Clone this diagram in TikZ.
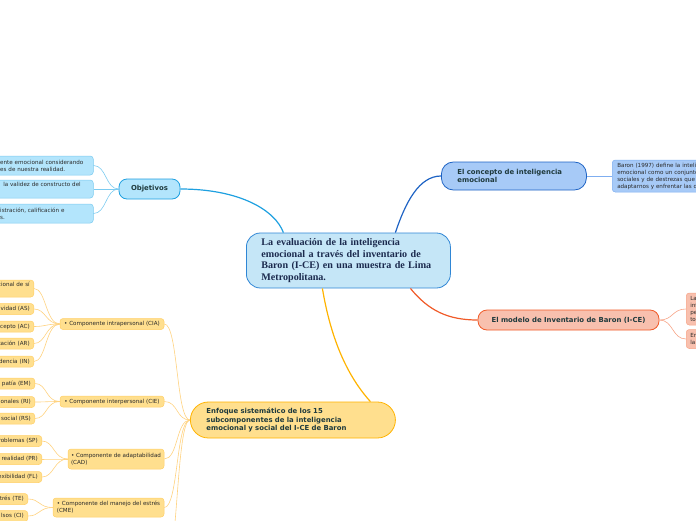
\documentclass[tikz,border=0pt]{standalone}
\usepackage{fontspec}
\setmainfont{DejaVu Sans}
\newfontfamily\serifb{Liberation Serif}
\definecolor{txt}{HTML}{2A2A2A}
\definecolor{ttl}{HTML}{1F3A3D}
\definecolor{navy}{HTML}{1B2A4E}
\definecolor{cfill}{HTML}{C5E6F7}
\definecolor{cline}{HTML}{2F86D5}
\definecolor{ofill}{HTML}{B3E5FC}
\definecolor{oline}{HTML}{1EA0E0}
\definecolor{olight}{HTML}{7CCBF0}
\definecolor{kfill}{HTML}{A7CAF7}
\definecolor{kline}{HTML}{1E63C4}
\definecolor{klight}{HTML}{7FAEF0}
\definecolor{mfill}{HTML}{F8C0AE}
\definecolor{mline}{HTML}{F05A28}
\definecolor{mlight}{HTML}{F7A487}
\definecolor{yfill}{HTML}{FFDF8E}
\definecolor{yline}{HTML}{FFCF66}
\definecolor{ydark}{HTML}{FFB300}
\definecolor{ylight}{HTML}{FFD27F}
\begin{document}
\begin{tikzpicture}[x=1pt,y=-1pt,
  small/.style={font=\fontsize{5.6}{7}\selectfont, text=txt},
  title/.style={font=\bfseries\fontsize{6.9}{8.6}\selectfont, text=ttl},
  bx/.style={draw, rounded corners=3pt, line width=0.5pt, inner ysep=0pt},
  leafr/.style={bx, small, fill=yfill, draw=yline, anchor=east, text width=56pt, align=right, inner xsep=4pt, minimum height=11pt},
  comp/.style={bx, small, fill=yfill, draw=yline, align=left, inner xsep=0pt},
  thin/.style={line width=0.6pt}
]
\useasboundingbox (0,0) rectangle (696,520);
\clip (0,0) rectangle (696,520);

% central
\node[draw=cline, fill=cfill, line width=0.8pt, rounded corners=14pt, anchor=west,
  inner xsep=15pt, inner ysep=0pt, text width=174pt, align=left, minimum height=55pt,
  font=\serifb\bfseries\fontsize{10.1}{11.4}\selectfont, text=navy] (c) at (246,260.5)
  {\mbox{La evaluación de la inteligencia}\\\mbox{emocional a través del inventario de}\\\mbox{Baron (I-CE) en una muestra de Lima}\\\mbox{Metropolitana.}};

% Objetivos
\node[bx, title, draw=oline, fill=ofill, line width=0.8pt, rounded corners=8pt, minimum width=61pt, minimum height=20pt] (obj) at (149.5,189) {Objetivos};
\node[bx, small, draw=olight, fill=ofill, anchor=west, inner xsep=10pt, text width=83pt, align=left, minimum height=19pt] (o1) at (-10,165.5) {\mbox{ente emocional considerando}\\\mbox{es de nuestra realidad.}};
\node[bx, small, draw=olight, fill=ofill, anchor=west, inner xsep=10pt, text width=83pt, align=left, minimum height=18pt] (o2) at (-10,189) {\mbox{\hspace{3pt}la validez de constructo del}\\\strut};
\node[bx, small, draw=olight, fill=ofill, anchor=west, inner xsep=10pt, text width=83pt, align=left, minimum height=19pt] (o3) at (-10,213.5) {\mbox{istración, calificación e}\\\mbox{s.}};

% concept
\node[bx, title, draw=kline, fill=kfill, line width=0.8pt, rounded corners=12pt, anchor=west, inner xsep=16pt, text width=113pt, align=left, minimum height=28pt] (k) at (441,176) {\mbox{El concepto de inteligencia}\\\mbox{emocional}};
\node[bx, small, draw=klight, fill=kfill, anchor=west, inner xsep=5pt, text width=100pt, align=left, minimum height=32pt] (k1) at (612,176) {\mbox{Baron (1997) define la inteli}\\\mbox{emocional como un conjunto}\\\mbox{sociales y de destrezas que i}\\\mbox{adaptarnos y enfrentar las d}};

% model
\node[bx, title, draw=mline, fill=mfill, line width=0.8pt, rounded corners=9pt, minimum width=181pt, minimum height=20pt] (m) at (568.5,320) {El modelo de Inventario de Baron (I-CE)};
\node[bx, small, draw=mlight, fill=mfill, anchor=west, inner xsep=4pt, text width=40pt, align=left, minimum height=32pt] (m1) at (686,309) {La\\inf\\pe\\to};
\node[bx, small, draw=mlight, fill=mfill, anchor=west, inner xsep=4pt, text width=40pt, align=left, minimum height=19pt] (m2) at (686,339) {En\\la};

% Enfoque
\node[bx, title, draw=ydark, fill=yfill, line width=0.8pt, rounded corners=18pt, anchor=west, inner xsep=16pt, text width=173pt, align=left, minimum height=36pt] (e) at (190,420) {\mbox{Enfoque sistemático de los 15}\\\mbox{subcomponentes de la inteligencia}\\\mbox{emocional y social del I-CE de Baron}};

% components
\node[comp, minimum width=104pt, minimum height=11pt] (cia) at (112,324) {• Componente intrapersonal (CIA)};
\node[comp, minimum width=104pt, minimum height=11pt] (cie) at (112,401.5) {• Componente interpersonal (CIE)};
\node[comp, minimum width=96pt, minimum height=20pt] (cad) at (116,459) {• Componente de adaptabilidad\\(CAD)};
\node[comp, minimum width=111pt, minimum height=19pt] (cme) at (108.5,507.5) {• Componente del manejo del estrés\\(CME)};
\coordinate (cag) at (164,575);

% leaves
\node[leafr, minimum height=17pt] (l1) at (34,288.5) {cional de sí\\\strut};
\node[leafr] (l2) at (34,309) {vidad (AS)};
\node[leafr] (l3) at (34,326.5) {cepto (AC)};
\node[leafr] (l4) at (34,343.5) {tación (AR)};
\node[leafr] (l5) at (34,361.5) {dencia (IN)};
\node[leafr] (l6) at (35,383.5) {patía (EM)};
\node[leafr] (l7) at (35,402) {onales (RI)};
\node[leafr] (l8) at (35,418.5) {social (RS)};
\node[leafr] (l9) at (42,441) {roblemas (SP)};
\node[leafr] (l10) at (42,459) {realidad (PR)};
\node[leafr] (l11) at (42,477) {exibilidad (FL)};
\node[leafr] (l12) at (28,499) {trés (TE)};
\node[leafr] (l13) at (28,516) {lsos (CI)};

% main connectors
\draw[oline, line width=1.2pt] ([xshift=-65pt]c.north) .. controls +(-8,-22) and +(60,0) .. (obj.east);
\draw[kline, line width=1.2pt] ([xshift=47pt]c.north) .. controls +(10,-30) and +(-22,0) .. (k.west);
\draw[mline, line width=1.2pt] ([xshift=62pt]c.south) .. controls +(18,22) and +(-30,0) .. (m.west);
\draw[ydark, line width=1.2pt] ([xshift=-26pt]c.south) .. controls +(10,60) and +(-18,-20) .. ([xshift=77.5pt]e.north);

% secondary connectors
\foreach \t in {o1,o2,o3} \draw[olight, thin] (obj.west) .. controls +(-13,0) and +(13,0) .. (\t.east);
\draw[klight, thin] (k.east) -- (k1.west);
\foreach \t in {m1,m2} \draw[mlight, thin] (m.east) .. controls +(14,0) and +(-14,0) .. (\t.west);
\foreach \t in {cia,cie,cad,cme,cag} \draw[ylight, thin] (e.west) .. controls +(-14,0) and +(14,0) .. (\t.east);
\foreach \t in {l1,l2,l3,l4,l5} \draw[ylight, thin] (cia.west) .. controls +(-14,0) and +(12,0) .. (\t.east);
\foreach \t in {l6,l7,l8} \draw[ylight, thin] (cie.west) .. controls +(-14,0) and +(12,0) .. (\t.east);
\foreach \t in {l9,l10,l11} \draw[ylight, thin] (cad.west) .. controls +(-14,0) and +(12,0) .. (\t.east);
\foreach \t in {l12,l13} \draw[ylight, thin] (cme.west) .. controls +(-14,0) and +(12,0) .. (\t.east);
\end{tikzpicture}
\end{document}
